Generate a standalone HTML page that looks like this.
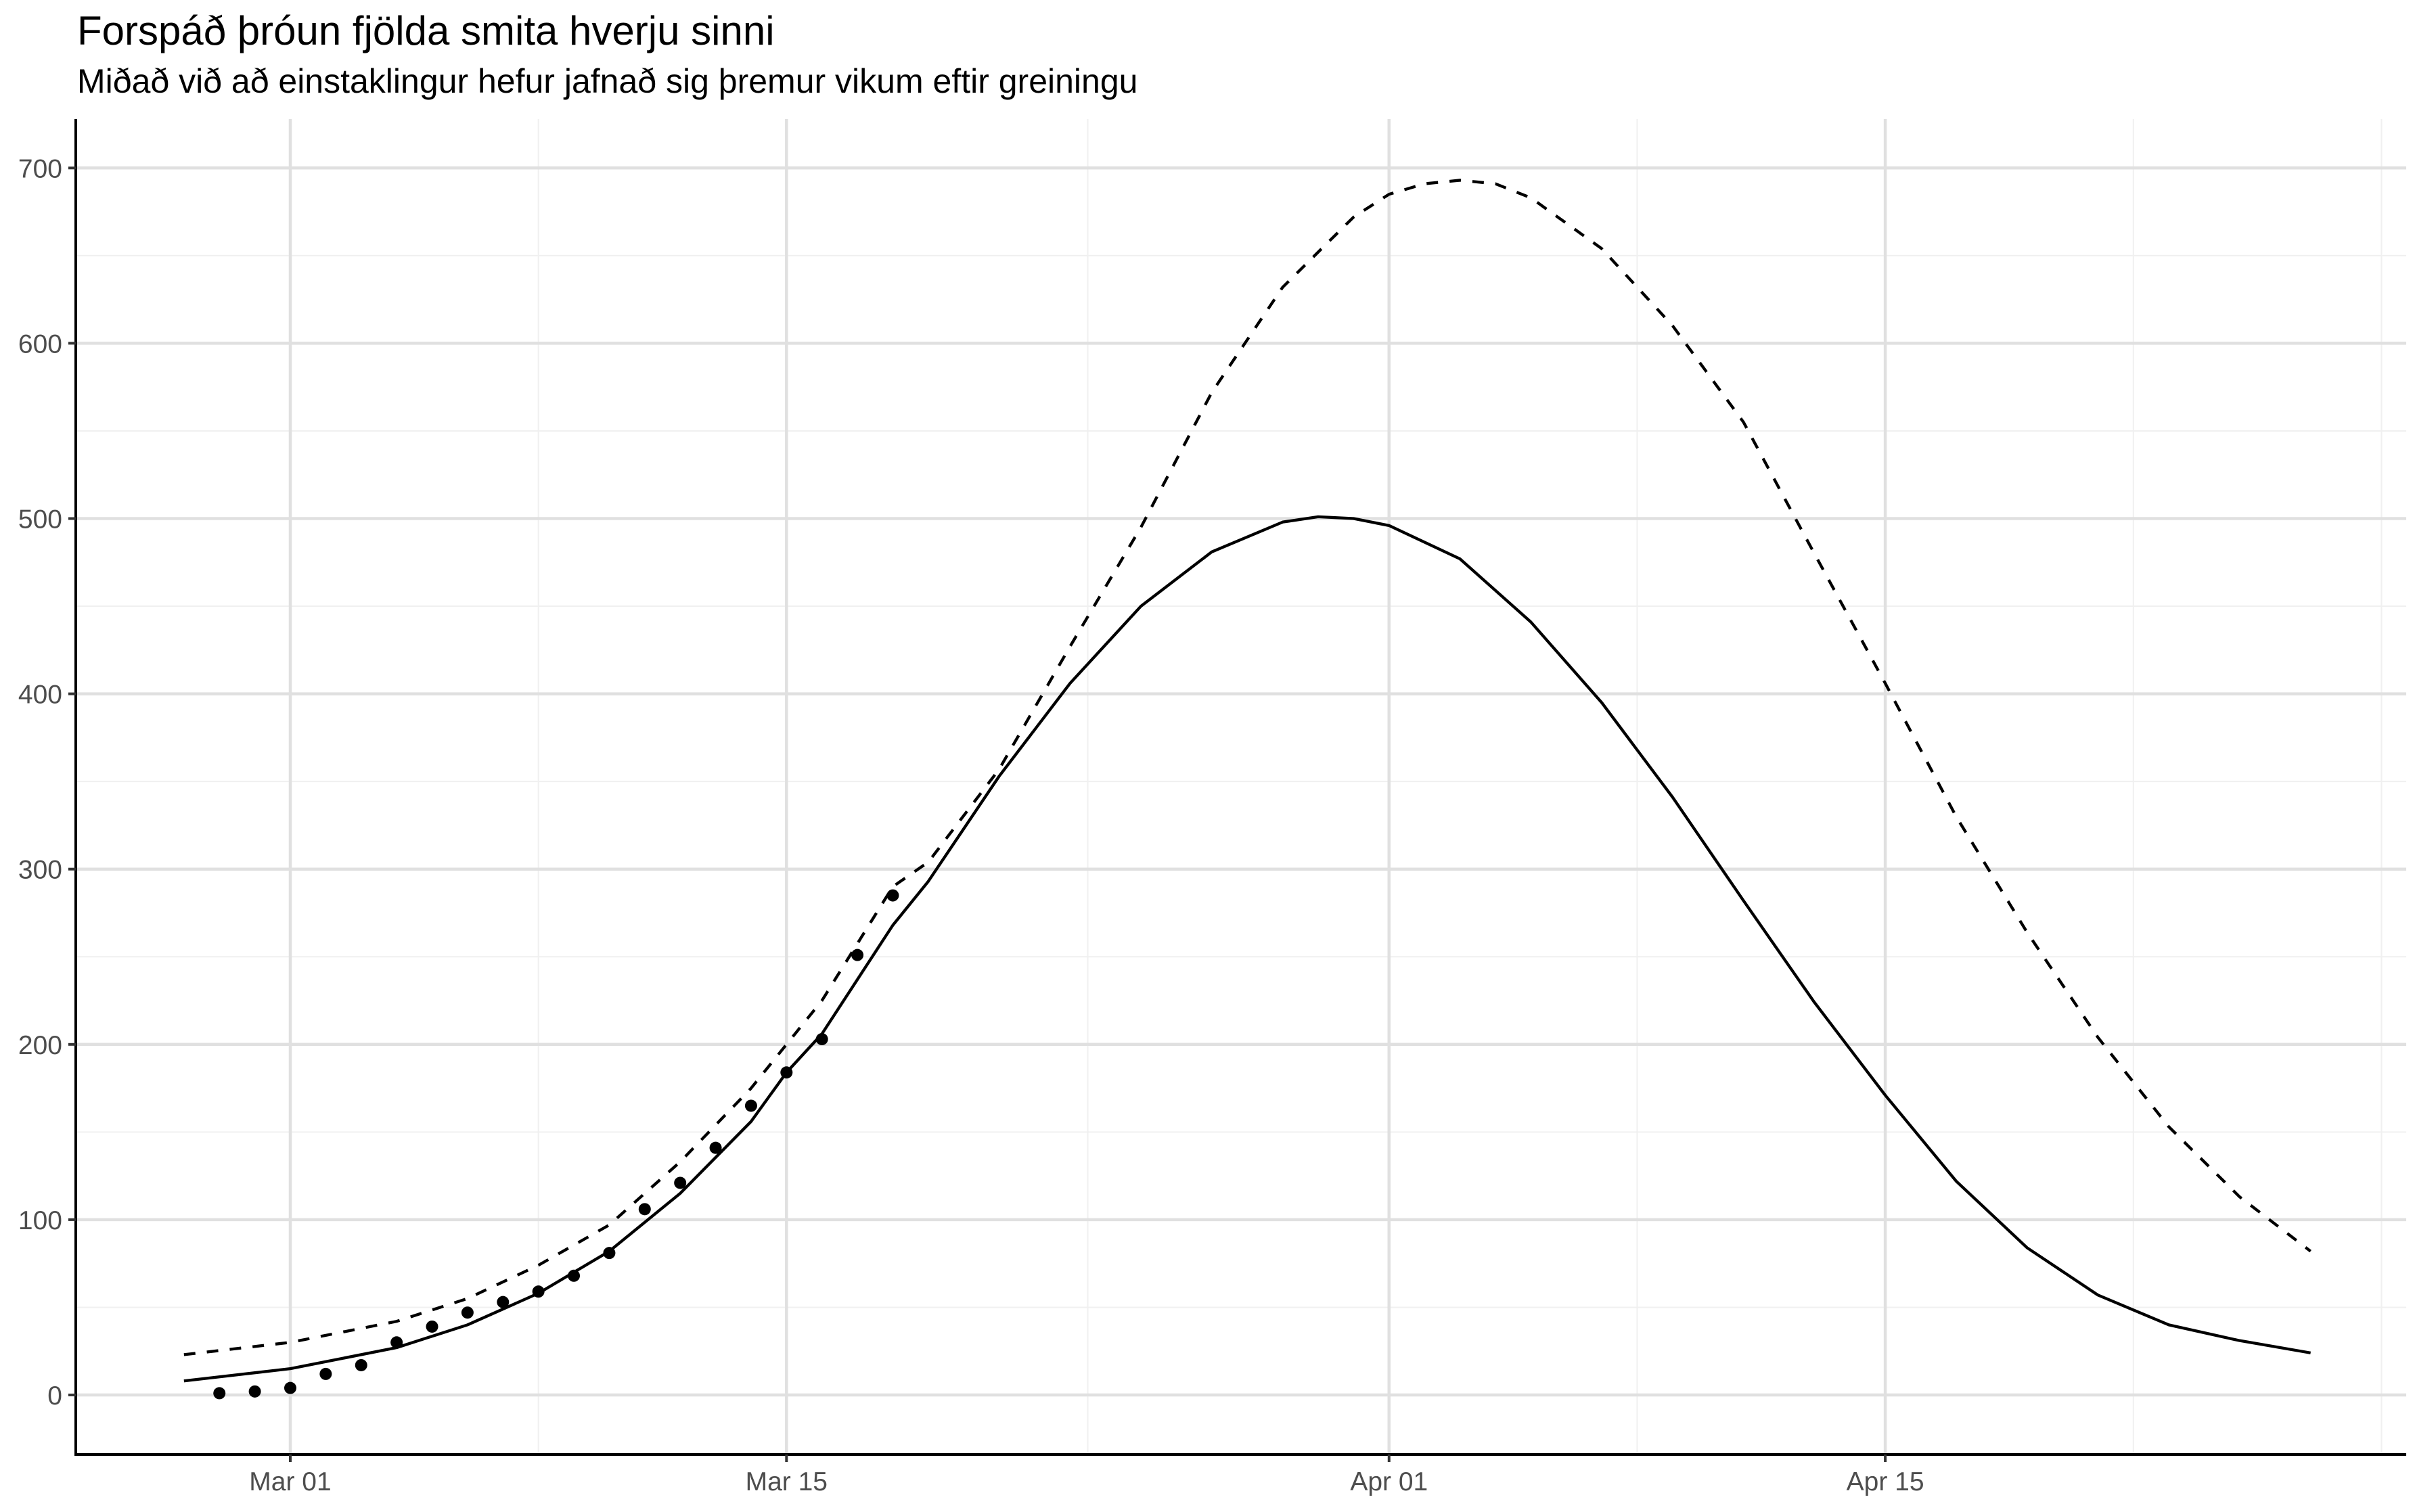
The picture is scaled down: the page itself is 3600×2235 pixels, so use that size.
<!DOCTYPE html>
<html><head><meta charset="utf-8"><style>
html,body{margin:0;padding:0;background:#fff}
svg{display:block;font-family:"Liberation Sans",Arial,sans-serif}
</style></head><body>
<svg id="chart" width="3600" height="2235" viewBox="0 0 3600 2235" xmlns="http://www.w3.org/2000/svg">
<rect width="3600" height="2235" fill="#fff"/>
<text x="114" y="66" font-size="60" fill="#000">Forspáð þróun fjölda smita hverju sinni</text>
<text x="114" y="137" font-size="50" fill="#000">Miðað við að einstaklingur hefur jafnað sig þremur vikum eftir greiningu</text>
<g id="grid"></g>
<g id="marks"></g>
<g id="axes"></g>
</svg>
<script>
// days relative to Mar 01
const majorTickDays = [0, 14, 31, 45];
const majorTickLabels = ["Mar 01", "Mar 15", "Apr 01", "Apr 15"];
const minorTickDays = [7, 22.5, 38, 52, 59];
const yTicks = [0, 100, 200, 300, 400, 500, 600, 700];
const yMinor = [50, 150, 250, 350, 450, 550, 650];

const obsDays = [-2,-1,0,1,2,3,4,5,6,7,8,9,10,11,12,13,14,15,16,17];
const obsValues = [1,2,4,12,17,30,39,47,53,59,68,81,106,121,141,165,184,203,251,285];

const solidDays = [-3,0,3,5,7,9,11,13,14,15,16,17,18,20,22,24,26,28,29,30,31,33,35,37,39,41,43,45,47,49,51,53,55,57];
const solidValues = [8,15,27,40,58,82,115,156,184,206,237,268,293,353,406,450,481,498,501,500,496,477,441,395,341,282,224,171,122,84,57,40,31,24];

const dashDays = [-3,0,3,5,7,9,11,13,15,17,18,20,22,24,26,28,30,31,32,33,34,35,37,39,41,43,45,47,49,51,53,55,57];
const dashValues = [23,30,42,55,74,97,133,175,225,290,304,357,427,495,572,632,672,685,691,693,691,683,654,610,555,480,406,330,264,204,153,113,82];

const X0 = 429, PXDAY = 52.38;
const Y0 = 2062, PXUNIT = 2.591;
const xs = d => X0 + d * PXDAY;
const ys = v => Y0 - v * PXUNIT;
const L = 112, R = 3556, T = 176, B = 2150;
const NS = "http://www.w3.org/2000/svg";
function mk(tag, attrs, parent){const e=document.createElementNS(NS,tag);for(const k in attrs)e.setAttribute(k,attrs[k]);parent.appendChild(e);return e;}
const grid = document.getElementById('grid'), marks = document.getElementById('marks'), axes = document.getElementById('axes');

yMinor.forEach(v=>{const e=mk('line',{x1:L,x2:R,y1:ys(v),y2:ys(v),stroke:'#f0f0f0','stroke-width':2},grid);

});
minorTickDays.forEach(d=>{const e=mk('line',{x1:xs(d),x2:xs(d),y1:T,y2:B,stroke:'#f0f0f0','stroke-width':2},grid);

});
yTicks.forEach(v=>{const e=mk('line',{x1:L,x2:R,y1:ys(v),y2:ys(v),stroke:'#e0e0e0','stroke-width':4.5},grid);

});
majorTickDays.forEach(d=>{const e=mk('line',{x1:xs(d),x2:xs(d),y1:T,y2:B,stroke:'#e0e0e0','stroke-width':4.5},grid);

});

const dp = dashDays.map((d,i)=>xs(d)+','+ys(dashValues[i])).join(' ');
const dl = mk('polyline',{points:dp,fill:'none',stroke:'#000','stroke-width':4.3,'stroke-dasharray':'17 17','stroke-linejoin':'round'},marks);


const sp = solidDays.map((d,i)=>xs(d)+','+ys(solidValues[i])).join(' ');
const sl = mk('polyline',{points:sp,fill:'none',stroke:'#000','stroke-width':4.3,'stroke-linejoin':'round'},marks);


obsDays.forEach((d,i)=>{const c=mk('circle',{cx:xs(d),cy:ys(obsValues[i]),r:9,fill:'#000'},marks);

});

const ya = mk('line',{x1:L,x2:L,y1:T,y2:B+2,stroke:'#000','stroke-width':4},axes);


const xa = mk('line',{x1:L-2,x2:R,y1:B,y2:B,stroke:'#000','stroke-width':4},axes);


yTicks.forEach(v=>{
  const t=mk('line',{x1:L-11,x2:L,y1:ys(v),y2:ys(v),stroke:'#333','stroke-width':4},axes);
  
  
  const l=mk('text',{x:L-20,y:ys(v)+14,'text-anchor':'end','font-size':39,fill:'#4d4d4d'},axes);
  l.textContent=String(v);
  
  
});
majorTickDays.forEach((d,i)=>{
  const t=mk('line',{x1:xs(d),x2:xs(d),y1:B,y2:B+11,stroke:'#333','stroke-width':4},axes);
  
  
  const l=mk('text',{x:xs(d),y:2203,'text-anchor':'middle','font-size':39,fill:'#4d4d4d'},axes);
  l.textContent=majorTickLabels[i];
  
  
});
</script>
</body></html>
